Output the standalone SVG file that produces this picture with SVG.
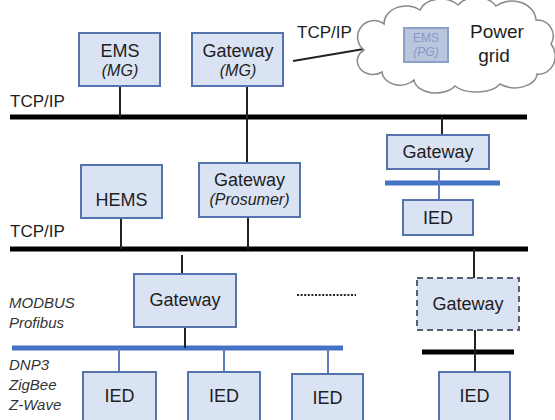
<svg xmlns="http://www.w3.org/2000/svg" width="555" height="420" viewBox="0 0 555 420">
<style>
.box{fill:#dae3f3;stroke:#5574ad;stroke-width:2}
.dash{fill:#dae3f3;stroke:#56606e;stroke-width:2;stroke-dasharray:6,4}
.t{font-family:"Liberation Sans",Arial,sans-serif;font-size:18px;fill:#1e1e1e;text-anchor:middle}
.i{font-family:"Liberation Sans",Arial,sans-serif;font-size:16px;font-style:italic;fill:#1e1e1e;text-anchor:middle}
.lab{font-family:"Liberation Sans",Arial,sans-serif;font-size:17px;fill:#1e1e1e}
.il{font-family:"Liberation Sans",Arial,sans-serif;font-size:15px;font-style:italic;fill:#333}
.bus{stroke:#000;stroke-width:5}
.bbus{stroke:#4472c4;stroke-width:5}
.ln{stroke:#222;stroke-width:2}
.bl{stroke:#5b7cc0;stroke-width:2}
</style>
<g id="connectors">
<line class="bus" x1="10" y1="117" x2="527" y2="117"/>
<line class="bus" x1="10" y1="249" x2="528" y2="249"/>
<line class="bbus" x1="385" y1="183" x2="500" y2="183"/>
<line class="bbus" x1="12" y1="348" x2="343" y2="348"/>
<line class="bus" x1="422" y1="352" x2="514" y2="352"/>
<line class="ln" x1="120" y1="86" x2="120" y2="117"/>
<line class="ln" x1="247" y1="86" x2="247" y2="163"/>
<line class="ln" x1="248" y1="217" x2="248" y2="249"/>
<line class="ln" x1="121" y1="218" x2="121" y2="249"/>
<line class="ln" x1="442" y1="117" x2="442" y2="135"/>
<line class="bl" x1="439" y1="169" x2="439" y2="200"/>
<line class="ln" x1="182" y1="255" x2="182" y2="274"/>
<line class="ln" x1="185" y1="327" x2="185" y2="348"/>
<line class="bl" x1="119" y1="348" x2="119" y2="372"/>
<line class="bl" x1="224" y1="348" x2="224" y2="372"/>
<line class="bl" x1="328" y1="348" x2="328" y2="374"/>
<line class="ln" x1="474" y1="249" x2="474" y2="278"/>
<line class="ln" x1="475" y1="330" x2="475" y2="372"/>
<line class="ln" x1="293" y1="61" x2="364" y2="49"/>
<line x1="297" y1="295" x2="356" y2="295" stroke="#222" stroke-width="2" stroke-dasharray="2,1.6"/>
</g>
<g id="cloud">
<path d="M364,50 A16,16 0 0,1 384,24 A22,18 0 0,1 420,10 A22,16 0 0,1 458,5 A22,16 0 0,1 496,6 A24,20 0 0,1 536,20 A16,16 0 0,1 551,44 A16,18 0 0,1 537,74 A22,14 0 0,1 500,84 A26,14 0 0,1 455,86 A22,14 0 0,1 414,80 A18,14 0 0,1 382,72 A14,12 0 0,1 364,50 Z" fill="#fff" stroke="#8a8a8a" stroke-width="1.5"/>
<rect x="404" y="28" width="44" height="34" fill="#b9c6de" stroke="#8fa0c6" stroke-width="2"/>
<text x="426" y="42" font-family="Liberation Sans,Arial,sans-serif" font-size="12" fill="#8799c4" text-anchor="middle">EMS</text>
<text x="426" y="56" font-family="Liberation Sans,Arial,sans-serif" font-size="12" font-style="italic" fill="#8799c4" text-anchor="middle">(PG)</text>
<text x="497" y="38" class="t" style="font-size:19px">Power</text>
<text x="494" y="62" class="t" style="font-size:19px">grid</text>
</g>
<g id="ems-mg"><rect class="box" x="79" y="33" width="81" height="53"/><text class="t" x="120" y="57">EMS</text><text class="i" x="120" y="76">(MG)</text></g>
<g id="gateway-mg"><rect class="box" x="192" y="33" width="91" height="53"/><text class="t" x="238" y="57">Gateway</text><text class="i" x="238" y="76">(MG)</text></g>
<g id="hems"><rect class="box" x="81" y="165" width="81" height="53"/><text class="t" x="121.5" y="206">HEMS</text></g>
<g id="gateway-prosumer"><rect class="box" x="199" y="163" width="101" height="54"/><text class="t" x="249.5" y="186">Gateway</text><text class="i" x="249.5" y="205">(Prosumer)</text></g>
<g id="gateway-r"><rect class="box" x="387" y="135" width="102" height="34"/><text class="t" x="438" y="158">Gateway</text></g>
<g id="ied-r"><rect class="box" x="403" y="200" width="70" height="35"/><text class="t" x="438" y="224">IED</text></g>
<g id="gateway-bl"><rect class="box" x="134" y="274" width="102" height="53"/><text class="t" x="185" y="306">Gateway</text></g>
<g id="gateway-dashed"><rect class="dash" x="417" y="278" width="102" height="52"/><text class="t" x="468" y="310">Gateway</text></g>
<g id="ied1"><rect class="box" x="83" y="372" width="73" height="60"/><text class="t" x="119.5" y="402">IED</text></g>
<g id="ied2"><rect class="box" x="188" y="372" width="72" height="60"/><text class="t" x="224" y="402">IED</text></g>
<g id="ied3"><rect class="box" x="292" y="374" width="71" height="60"/><text class="t" x="327.5" y="404">IED</text></g>
<g id="ied4"><rect class="box" x="439" y="372" width="71" height="60"/><text class="t" x="474.5" y="402">IED</text></g>
<g id="labels">
<text class="lab" x="10" y="107">TCP/IP</text>
<text class="lab" x="10" y="237">TCP/IP</text>
<text class="lab" x="297" y="38">TCP/IP</text>
<text class="il" x="9" y="308">MODBUS</text>
<text class="il" x="9" y="328">Profibus</text>
<text class="il" x="9" y="370">DNP3</text>
<text class="il" x="9" y="390">ZigBee</text>
<text class="il" x="9" y="410">Z-Wave</text>
</g>
</svg>
